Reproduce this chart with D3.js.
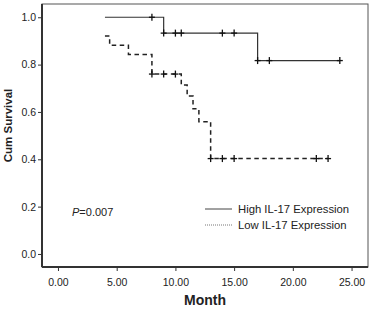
<!DOCTYPE html>
<html>
<head>
<meta charset="utf-8">
<script src="https://cdn.jsdelivr.net/npm/d3@7"></script>
<style>
  body { margin: 0; background: #fff; }
  text { font-family: "Liberation Sans", Arial, sans-serif; fill: #222; }
</style>
</head>
<body>
<svg id="km-chart"></svg>
<script>
// Kaplan-Meier steps
const highTime = [4, 9, 17, 24];
const highSurv = [1.0, 0.933, 0.817, 0.817];
const highCensor = [8, 9, 10, 10.5, 14, 15, 17, 18, 24];

const lowTime = [4, 4.4, 6, 8, 10.5, 11, 11.5, 12, 13, 23];
const lowSurv = [0.921, 0.882, 0.843, 0.760, 0.714, 0.667, 0.613, 0.559, 0.403, 0.403];
const lowCensor = [8, 9, 10, 13, 14, 15, 22, 23];

const xTicks = [0, 5, 10, 15, 20, 25];
const yTicks = [0, 0.2, 0.4, 0.6, 0.8, 1.0];
const legendLabels = ['High IL-17 Expression', 'Low IL-17 Expression'];

const width = 372;
const height = 310;
const margin = {top: 4, right: 4, bottom: 43, left: 42};
const w = width - margin.left - margin.right;
const h = height - margin.top - margin.bottom;

let svg = d3.select('#km-chart')
    .attr('width', width)
    .attr('height', height)
  .append('g')
    .attr('transform', 'translate(' + margin.left + ',' + margin.top + ')');

// Scales
let x = d3.scaleLinear().domain([-1.36, 26.4]).range([0, w]);
let y = d3.scaleLinear().domain([-0.055, 1.056]).range([h, 0]);

// Frame (top and right)
svg.append('rect')
    .attr('x', 0).attr('y', 0)
    .attr('width', w).attr('height', h)
    .attr('fill', 'none')
    .attr('stroke', '#555')
    .attr('stroke-width', 1);

// Axes
let xAxis = svg.append('g')
    .attr('transform', 'translate(0,' + h + ')')
    .call(d3.axisBottom(x).tickValues(xTicks).tickFormat(d3.format('.2f')).tickSize(4).tickSizeOuter(0));
let yAxis = svg.append('g')
    .call(d3.axisLeft(y).tickValues(yTicks).tickFormat(d3.format('.1f')).tickSize(4).tickSizeOuter(0));

[xAxis, yAxis].forEach(a => {
  a.select('.domain').attr('stroke', '#333').attr('stroke-width', 2);
  a.selectAll('.tick line').attr('stroke', '#333');
  a.selectAll('.tick text').attr('font-size', '10.5px').attr('fill', '#333')
    .attr('font-family', '"Liberation Sans", Arial, sans-serif');
});
xAxis.select('.domain').attr('d', 'M0,0H' + w);
yAxis.select('.domain').attr('d', 'M0,0V' + h);
xAxis.selectAll('.tick text').attr('dy', '1.1em');
yAxis.selectAll('.tick text').attr('x', -6);

// Axis titles
svg.append('text')
    .attr('x', w / 2)
    .attr('y', h + 38)
    .attr('text-anchor', 'middle')
    .attr('font-size', '14px')
    .attr('font-weight', 'bold')
    .text('Month');

svg.append('text')
    .attr('transform', 'translate(' + (-30) + ',' + (h / 2 - 10) + ') rotate(-90)')
    .attr('text-anchor', 'middle')
    .attr('font-size', '11.5px')
    .attr('font-weight', 'bold')
    .text('Cum Survival');

// Step curves
let line = d3.line()
    .x(d => x(d[0]))
    .y(d => y(d[1]))
    .curve(d3.curveStepAfter);

let highData = highTime.map((t, i) => [t, highSurv[i]]);
let lowData = lowTime.map((t, i) => [t, lowSurv[i]]);

svg.append('path')
    .datum(highData)
    .attr('d', line)
    .attr('fill', 'none')
    .attr('stroke', '#333')
    .attr('stroke-width', 1.2);

svg.append('path')
    .datum(lowData)
    .attr('d', line)
    .attr('fill', 'none')
    .attr('stroke', '#222')
    .attr('stroke-width', 1.5)
    .attr('stroke-dasharray', '4.5,3.5');

// survival value at a time from the step data
function survAt(times, surv, t) {
  let v = surv[0];
  times.forEach((tt, i) => { if (tt <= t) v = surv[i]; });
  return v;
}

// Censor marks
function drawCensor(times, stepT, stepS) {
  let g = svg.append('g');
  times.forEach(t => {
    let cx = x(t), cy = y(survAt(stepT, stepS, t));
    g.append('line').attr('x1', cx - 3).attr('x2', cx + 3).attr('y1', cy).attr('y2', cy)
      .attr('stroke', '#111').attr('stroke-width', 1.3);
    g.append('line').attr('x1', cx).attr('x2', cx).attr('y1', cy - 3.5).attr('y2', cy + 3.5)
      .attr('stroke', '#111').attr('stroke-width', 1.3);
  });
}
drawCensor(highCensor, highTime, highSurv);
drawCensor(lowCensor, lowTime, lowSurv);

// Legend
let legend = svg.append('g').attr('transform', 'translate(163,205)');
legend.append('line').attr('x1', 0).attr('x2', 27).attr('y1', 0).attr('y2', 0)
    .attr('stroke', '#444').attr('stroke-width', 1);
legend.append('line').attr('x1', 0).attr('x2', 27).attr('y1', 16).attr('y2', 16)
    .attr('stroke', '#777').attr('stroke-width', 1).attr('stroke-dasharray', '1,1');
legend.selectAll('text.lab')
    .data(legendLabels)
    .enter()
    .append('text')
    .attr('class', 'lab')
    .attr('x', 33)
    .attr('y', (d, i) => i * 16 + 4)
    .attr('font-size', '11.3px')
    .text(d => d);

// P value
let p = svg.append('text')
    .attr('x', 30)
    .attr('y', 212)
    .attr('font-size', '11px');
p.append('tspan').attr('font-style', 'italic').text('P');
p.append('tspan').text('=0.007');
</script>
</body>
</html>
